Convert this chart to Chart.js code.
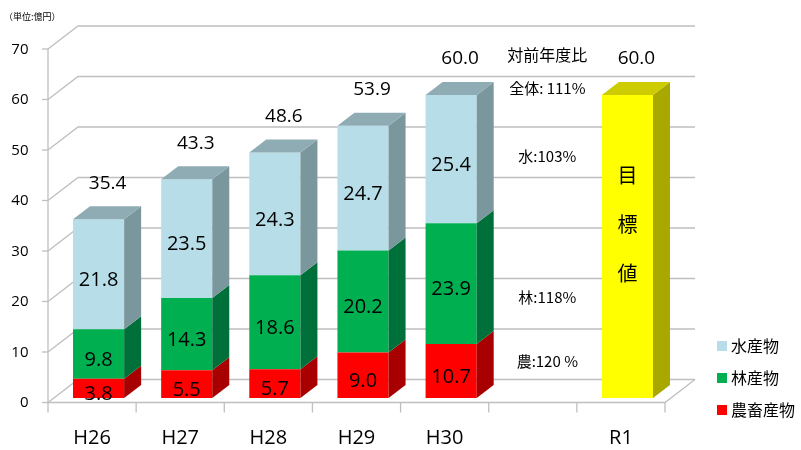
<!DOCTYPE html>
<html>
<head>
<meta charset="utf-8">
<script src="https://cdn.jsdelivr.net/npm/chart.js@4"></script>
<style>
  body { margin: 0; background: #fff; }
  #wrap { width: 801px; height: 450px; }
</style>
</head>
<body>
<div id="wrap"><canvas id="chart"></canvas></div>
<script>
const years = ["H26", "H27", "H28", "H29", "H30", "", "R1"];
const agri = [3.8, 5.5, 5.7, 9.0, 10.7, null, null];
const forest = [9.8, 14.3, 18.6, 20.2, 23.9, null, null];
const fish = [21.8, 23.5, 24.3, 24.7, 25.4, null, null];
const target = [null, null, null, null, null, null, 60.0];
const totals = [35.4, 43.3, 48.6, 53.9, 60.0, null, 60.0];
const yTicks = [0, 10, 20, 30, 40, 50, 60, 70];
const ratioTitle = "対前年度比";
const ratioNotes = ["全体: 111%", "水:103%", "林:118%", "農:120 %"];
const targetText = ["目", "標", "値"];
const unitText = "（単位:億円）";

const FONT = "'Noto Sans CJK JP', 'Noto Sans', sans-serif";
const NUM_FONT = "'Open Sans', 'Noto Sans', sans-serif";

// 3D offsets: front plane -> bar plane, back wall, bar depth
const PLANE_DX = 6.5, PLANE_DY = 4.5;
const WALL_DX = 30, WALL_DY = -23;
const BAR_DX = 17, BAR_DY = -13;

const shades = {
  "#B7DEE8": { side: "#7B979E", top: "#8FACB4" },
  "#00B050": { side: "#00703A", top: "#00873F" },
  "#FF0000": { side: "#A80000", top: "#C00000" },
  "#FFFF00": { side: "#A8A800", top: "#CCCC00" }
};

const wallPlugin = {
  id: "wall",
  beforeDatasetsDraw(chart) {
    const ctx = chart.ctx;
    const y = chart.scales.y;
    const area = chart.chartArea;
    const fx0 = area.left - PLANE_DX;
    const fx1 = area.right - PLANE_DX;
    ctx.save();
    ctx.strokeStyle = "#BFBFBF";
    ctx.lineWidth = 1.3;
    yTicks.forEach(v => {
      const fy = y.getPixelForValue(v) + PLANE_DY;
      ctx.beginPath();
      ctx.moveTo(fx0, fy);
      ctx.lineTo(fx0 + WALL_DX, fy + WALL_DY);
      ctx.lineTo(fx1 + WALL_DX, fy + WALL_DY);
      ctx.stroke();
      // small tick on front axis
      ctx.beginPath();
      ctx.moveTo(fx0 - 6, fy);
      ctx.lineTo(fx0, fy);
      ctx.stroke();
    });
    const f0 = y.getPixelForValue(0) + PLANE_DY;
    const f70 = y.getPixelForValue(70) + PLANE_DY;
    ctx.beginPath();
    ctx.moveTo(fx0, f70);
    ctx.lineTo(fx0, f0);
    ctx.lineTo(fx1, f0);
    ctx.lineTo(fx1 + WALL_DX, f0 + WALL_DY);
    ctx.stroke();
    // category ticks under floor
    const step = (fx1 - fx0) / years.length;
    for (let i = 0; i <= years.length; i++) {
      ctx.beginPath();
      ctx.moveTo(fx0 + step * i, f0);
      ctx.lineTo(fx0 + step * i, f0 + 10);
      ctx.stroke();
    }
    ctx.restore();
  },
  afterDatasetsDraw(chart) {
    const ctx = chart.ctx;
    const metas = chart.data.datasets.map((d, i) => chart.getDatasetMeta(i));
    ctx.save();
    years.forEach((_, idx) => {
      let topDs = -1;
      metas.forEach((m, di) => {
        if (chart.data.datasets[di].data[idx] != null) topDs = di;
      });
      metas.forEach((m, di) => {
        const val = chart.data.datasets[di].data[idx];
        if (val == null) return;
        const bar = m.data[idx];
        const col = shades[chart.data.datasets[di].backgroundColor];
        const l = bar.x - bar.width / 2, r = bar.x + bar.width / 2;
        const t = bar.y, b = bar.base;
        ctx.fillStyle = col.side;
        ctx.beginPath();
        ctx.moveTo(r, t);
        ctx.lineTo(r + BAR_DX, t + BAR_DY);
        ctx.lineTo(r + BAR_DX, b + BAR_DY);
        ctx.lineTo(r, b);
        ctx.closePath();
        ctx.fill();
        if (di === topDs) {
          ctx.fillStyle = col.top;
          ctx.beginPath();
          ctx.moveTo(l, t);
          ctx.lineTo(l + BAR_DX, t + BAR_DY);
          ctx.lineTo(r + BAR_DX, t + BAR_DY);
          ctx.lineTo(r, t);
          ctx.closePath();
          ctx.fill();
        }
      });
    });
    ctx.restore();
  },
  afterDraw(chart) {
    const ctx = chart.ctx;
    const y = chart.scales.y;
    const x = chart.scales.x;
    ctx.save();
    ctx.fillStyle = "#000";
    ctx.textAlign = "center";
    ctx.textBaseline = "middle";

    // segment values
    ctx.font = "20px " + NUM_FONT;
    [0, 1, 2].forEach(di => {
      const m = chart.getDatasetMeta(di);
      chart.data.datasets[di].data.forEach((v, idx) => {
        if (v == null) return;
        const bar = m.data[idx];
        ctx.fillText(v.toFixed(1), bar.x, (bar.y + bar.base) / 2 + 6);
      });
    });

    // totals
    ctx.font = "19px " + NUM_FONT;
    totals.forEach((v, idx) => {
      if (v == null) return;
      const bx = x.getPixelForValue(idx);
      ctx.fillText(v.toFixed(1), bx + 9, y.getPixelForValue(v) - 36);
    });

    // target label inside R1 bar
    ctx.font = "20px " + FONT;
    const rx = x.getPixelForValue(6);
    targetText.forEach((ch, i) => {
      ctx.fillText(ch, rx, y.getPixelForValue(44) + i * 49);
    });

    // ratio notes in the empty slot
    const nx = x.getPixelForValue(5) + 8;
    ctx.font = "16px " + FONT;
    ctx.fillText(ratioTitle, nx, y.getPixelForValue(67.9));
    ctx.font = "15px " + FONT;
    const noteVals = [61.4, 47.8, 19.9, 7.3];
    ratioNotes.forEach((t, i) => {
      ctx.fillText(t, nx, y.getPixelForValue(noteVals[i]));
    });

    // unit
    ctx.font = "9px " + FONT;
    ctx.textAlign = "left";
    ctx.fillText(unitText, 4, 17);

    // legend
    ctx.font = "16px " + FONT;
    const items = [2, 1, 0];
    items.forEach((di, i) => {
      const ds = chart.data.datasets[di];
      const ly = 346 + i * 32;
      ctx.fillStyle = ds.backgroundColor;
      ctx.fillRect(717, ly - 5, 10, 10);
      ctx.fillStyle = "#000";
      ctx.fillText(ds.label, 731, ly);
    });
    ctx.restore();
  }
};

new Chart(document.getElementById("chart"), {
  type: "bar",
  data: {
    labels: years,
    datasets: [
      { label: "農畜産物", data: agri, backgroundColor: "#FF0000" },
      { label: "林産物", data: forest, backgroundColor: "#00B050" },
      { label: "水産物", data: fish, backgroundColor: "#B7DEE8" },
      { label: "目標", data: target, backgroundColor: "#FFFF00" }
    ]
  },
  options: {
    responsive: true,
    maintainAspectRatio: false,
    animation: false,
    layout: { padding: { top: 44.5, right: 129.5, left: 0, bottom: 0 } },
    datasets: { bar: { categoryPercentage: 1, barPercentage: 0.58, borderWidth: 0 } },
    plugins: { legend: { display: false }, tooltip: { enabled: false } },
    scales: {
      x: {
        stacked: true,
        grid: { display: false, drawTicks: false },
        border: { display: false },
        ticks: { font: { size: 20, family: NUM_FONT }, color: "#000", padding: 28, labelOffset: -PLANE_DX, maxRotation: 0 },
        afterFit(s) { s.height = 52; }
      },
      y: {
        stacked: true,
        min: 0,
        max: 70,
        grid: { display: false, drawTicks: false },
        border: { display: false },
        ticks: { stepSize: 10, font: { size: 15, family: NUM_FONT }, color: "#000", padding: 26, labelOffset: 5 },
        afterFit(s) { s.width = 54.5; }
      }
    }
  },
  plugins: [wallPlugin]
});
</script>
</body>
</html>
